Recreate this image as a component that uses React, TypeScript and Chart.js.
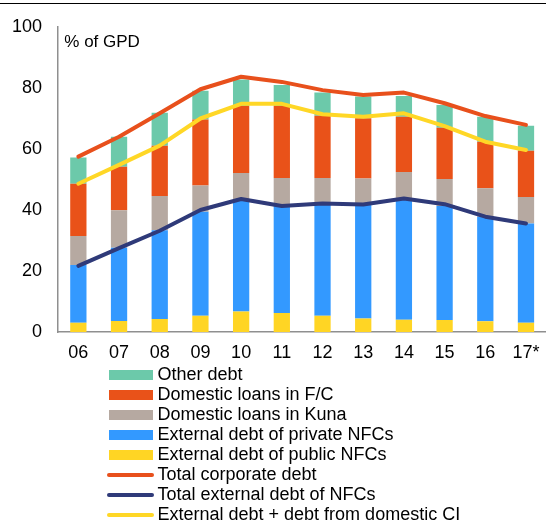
import React, { useEffect, useRef } from 'react';
import { Chart, registerables } from 'chart.js';

Chart.register(...registerables);

const categories = ['06', '07', '08', '09', '10', '11', '12', '13', '14', '15', '16', '17*'];
const yTicks = [0, 20, 40, 60, 80, 100];

const externalPublic = [3.0, 3.6, 4.3, 5.3, 6.7, 6.2, 5.3, 4.4, 4.0, 3.9, 3.5, 3.0];
const externalPrivate = [19.0, 24.0, 29.1, 34.1, 36.6, 35.1, 36.3, 37.2, 39.5, 37.4, 34.3, 32.6];
const domesticKuna = [9.5, 12.3, 11.2, 8.6, 8.8, 9.2, 8.9, 8.7, 9.0, 8.9, 9.3, 8.7];
const domesticFC = [17.1, 14.3, 16.5, 21.7, 22.0, 23.6, 20.4, 19.8, 18.1, 16.8, 15.3, 15.1];
const otherDebt = [8.6, 9.8, 10.8, 9.4, 8.7, 6.9, 7.6, 7.1, 6.8, 7.4, 8.2, 8.2];

const totalCorporate = [57.5, 64.0, 71.7, 79.6, 83.7, 82.0, 79.3, 77.7, 78.5, 75.0, 70.8, 67.9];
const totalExternal = [21.7, 27.5, 33.2, 40.0, 43.6, 41.3, 42.1, 41.8, 43.8, 41.9, 37.8, 35.6];
const externalPlusCI = [48.6, 54.8, 61.1, 70.0, 74.8, 74.8, 71.4, 70.6, 71.7, 67.5, 62.4, 59.7];

const COLORS = {
  other: '#6CC9AA',
  fc: '#E95219',
  kuna: '#B6A9A1',
  priv: '#3399FF',
  pub: '#FFD524',
  totalCorp: '#E8501C',
  totalExt: '#2F3A79',
  extCI: '#FFD726',
};

const FONT = '"Liberation Sans", Arial, sans-serif';

const legendItems = [
  { label: 'Other debt', color: COLORS.other, kind: 'box' },
  { label: 'Domestic loans in F/C', color: COLORS.fc, kind: 'box' },
  { label: 'Domestic loans in Kuna', color: COLORS.kuna, kind: 'box' },
  { label: 'External debt of private NFCs', color: COLORS.priv, kind: 'box' },
  { label: 'External debt of public NFCs', color: COLORS.pub, kind: 'box' },
  { label: 'Total corporate debt', color: COLORS.totalCorp, kind: 'line' },
  { label: 'Total external debt of NFCs', color: COLORS.totalExt, kind: 'line' },
  { label: 'External debt + debt from domestic CI', color: COLORS.extCI, kind: 'line' },
];

function ChartCanvas() {
  const ref = useRef<HTMLCanvasElement | null>(null);
  useEffect(() => {
    if (!ref.current) return;
    const bar = (label: string, data: number[], color: string) => ({
      type: 'bar' as const,
      label,
      data,
      backgroundColor: color,
      borderWidth: 0,
      stack: 'bars',
      order: 1,
      categoryPercentage: 1,
      barPercentage: 0.4,
    });
    const line = (label: string, data: number[], color: string, stack: string) => ({
      type: 'line' as const,
      label,
      data,
      borderColor: color,
      backgroundColor: color,
      borderWidth: 4,
      borderCapStyle: 'round' as const,
      borderJoinStyle: 'round' as const,
      pointRadius: 0,
      tension: 0,
      fill: false,
      stack,
      order: 0,
    });
    const chart = new Chart(ref.current, {
      type: 'bar',
      data: {
        labels: categories,
        datasets: [
          line('Total corporate debt', totalCorporate, COLORS.totalCorp, 'l1'),
          line('Total external debt of NFCs', totalExternal, COLORS.totalExt, 'l2'),
          line('External debt + debt from domestic CI', externalPlusCI, COLORS.extCI, 'l3'),
          bar('External debt of public NFCs', externalPublic, COLORS.pub),
          bar('External debt of private NFCs', externalPrivate, COLORS.priv),
          bar('Domestic loans in Kuna', domesticKuna, COLORS.kuna),
          bar('Domestic loans in F/C', domesticFC, COLORS.fc),
          bar('Other debt', otherDebt, COLORS.other),
        ] as any,
      },
      options: {
        responsive: false,
        animation: false,
        layout: { padding: { top: 27, right: 0, left: 0, bottom: 0 } },
        plugins: {
          legend: { display: false },
          tooltip: { enabled: false },
          title: { display: false },
        },
        scales: {
          x: {
            stacked: true,
            grid: { display: false, drawTicks: false },
            border: { display: true, color: '#8f8f8f', width: 1.5 },
            ticks: {
              color: '#000',
              font: { family: FONT, size: 18 },
              padding: 10.5,
              maxRotation: 0,
              autoSkip: false,
            },
            afterFit: (s: any) => {
              s.height = 38;
            },
          },
          y: {
            stacked: true,
            min: 0,
            max: 100,
            afterBuildTicks: (s: any) => {
              s.ticks = yTicks.map((v) => ({ value: v }));
            },
            grid: { display: false, drawTicks: false },
            border: { display: true, color: '#8f8f8f', width: 1.5 },
            ticks: {
              color: '#000',
              font: { family: FONT, size: 18 },
              padding: 16,
            },
            afterFit: (s: any) => {
              s.width = 58;
            },
          },
        },
      },
    });
    return () => chart.destroy();
  }, []);
  return (
    <canvas
      ref={ref}
      width={550}
      height={370}
      style={{ position: 'absolute', left: 0, top: 0, width: 550, height: 370 }}
    />
  );
}

export default function App() {
  return (
    <div
      style={{
        position: 'absolute',
        left: 0,
        top: 0,
        width: 546,
        height: 523,
        overflow: 'hidden',
        background: '#fff',
        fontFamily: FONT,
        color: '#000',
      }}
    >
      <ChartCanvas />
      <div style={{ position: 'absolute', left: 0, top: 3, width: 546, height: 1, background: '#000' }} />
      <div style={{ position: 'absolute', left: 64.3, top: 31.6, fontSize: 17, lineHeight: 'normal', whiteSpace: 'nowrap' }}>
        % of GPD
      </div>
      {legendItems.map((it, i) => {
        const center = 375 + i * 20;
        return (
          <div key={it.label}>
            {it.kind === 'box' ? (
              <div
                style={{
                  position: 'absolute',
                  left: 109,
                  top: center - 5,
                  width: 44,
                  height: 10,
                  background: it.color,
                }}
              />
            ) : (
              <div
                style={{
                  position: 'absolute',
                  left: 107,
                  top: center - 2.25,
                  width: 47,
                  height: 4.5,
                  borderRadius: 2.25,
                  background: it.color,
                }}
              />
            )}
            <div
              style={{
                position: 'absolute',
                left: 157.5,
                top: center - 11,
                height: 20,
                lineHeight: '20px',
                fontSize: 18,
                whiteSpace: 'nowrap',
              }}
            >
              {it.label}
            </div>
          </div>
        );
      })}
    </div>
  );
}
